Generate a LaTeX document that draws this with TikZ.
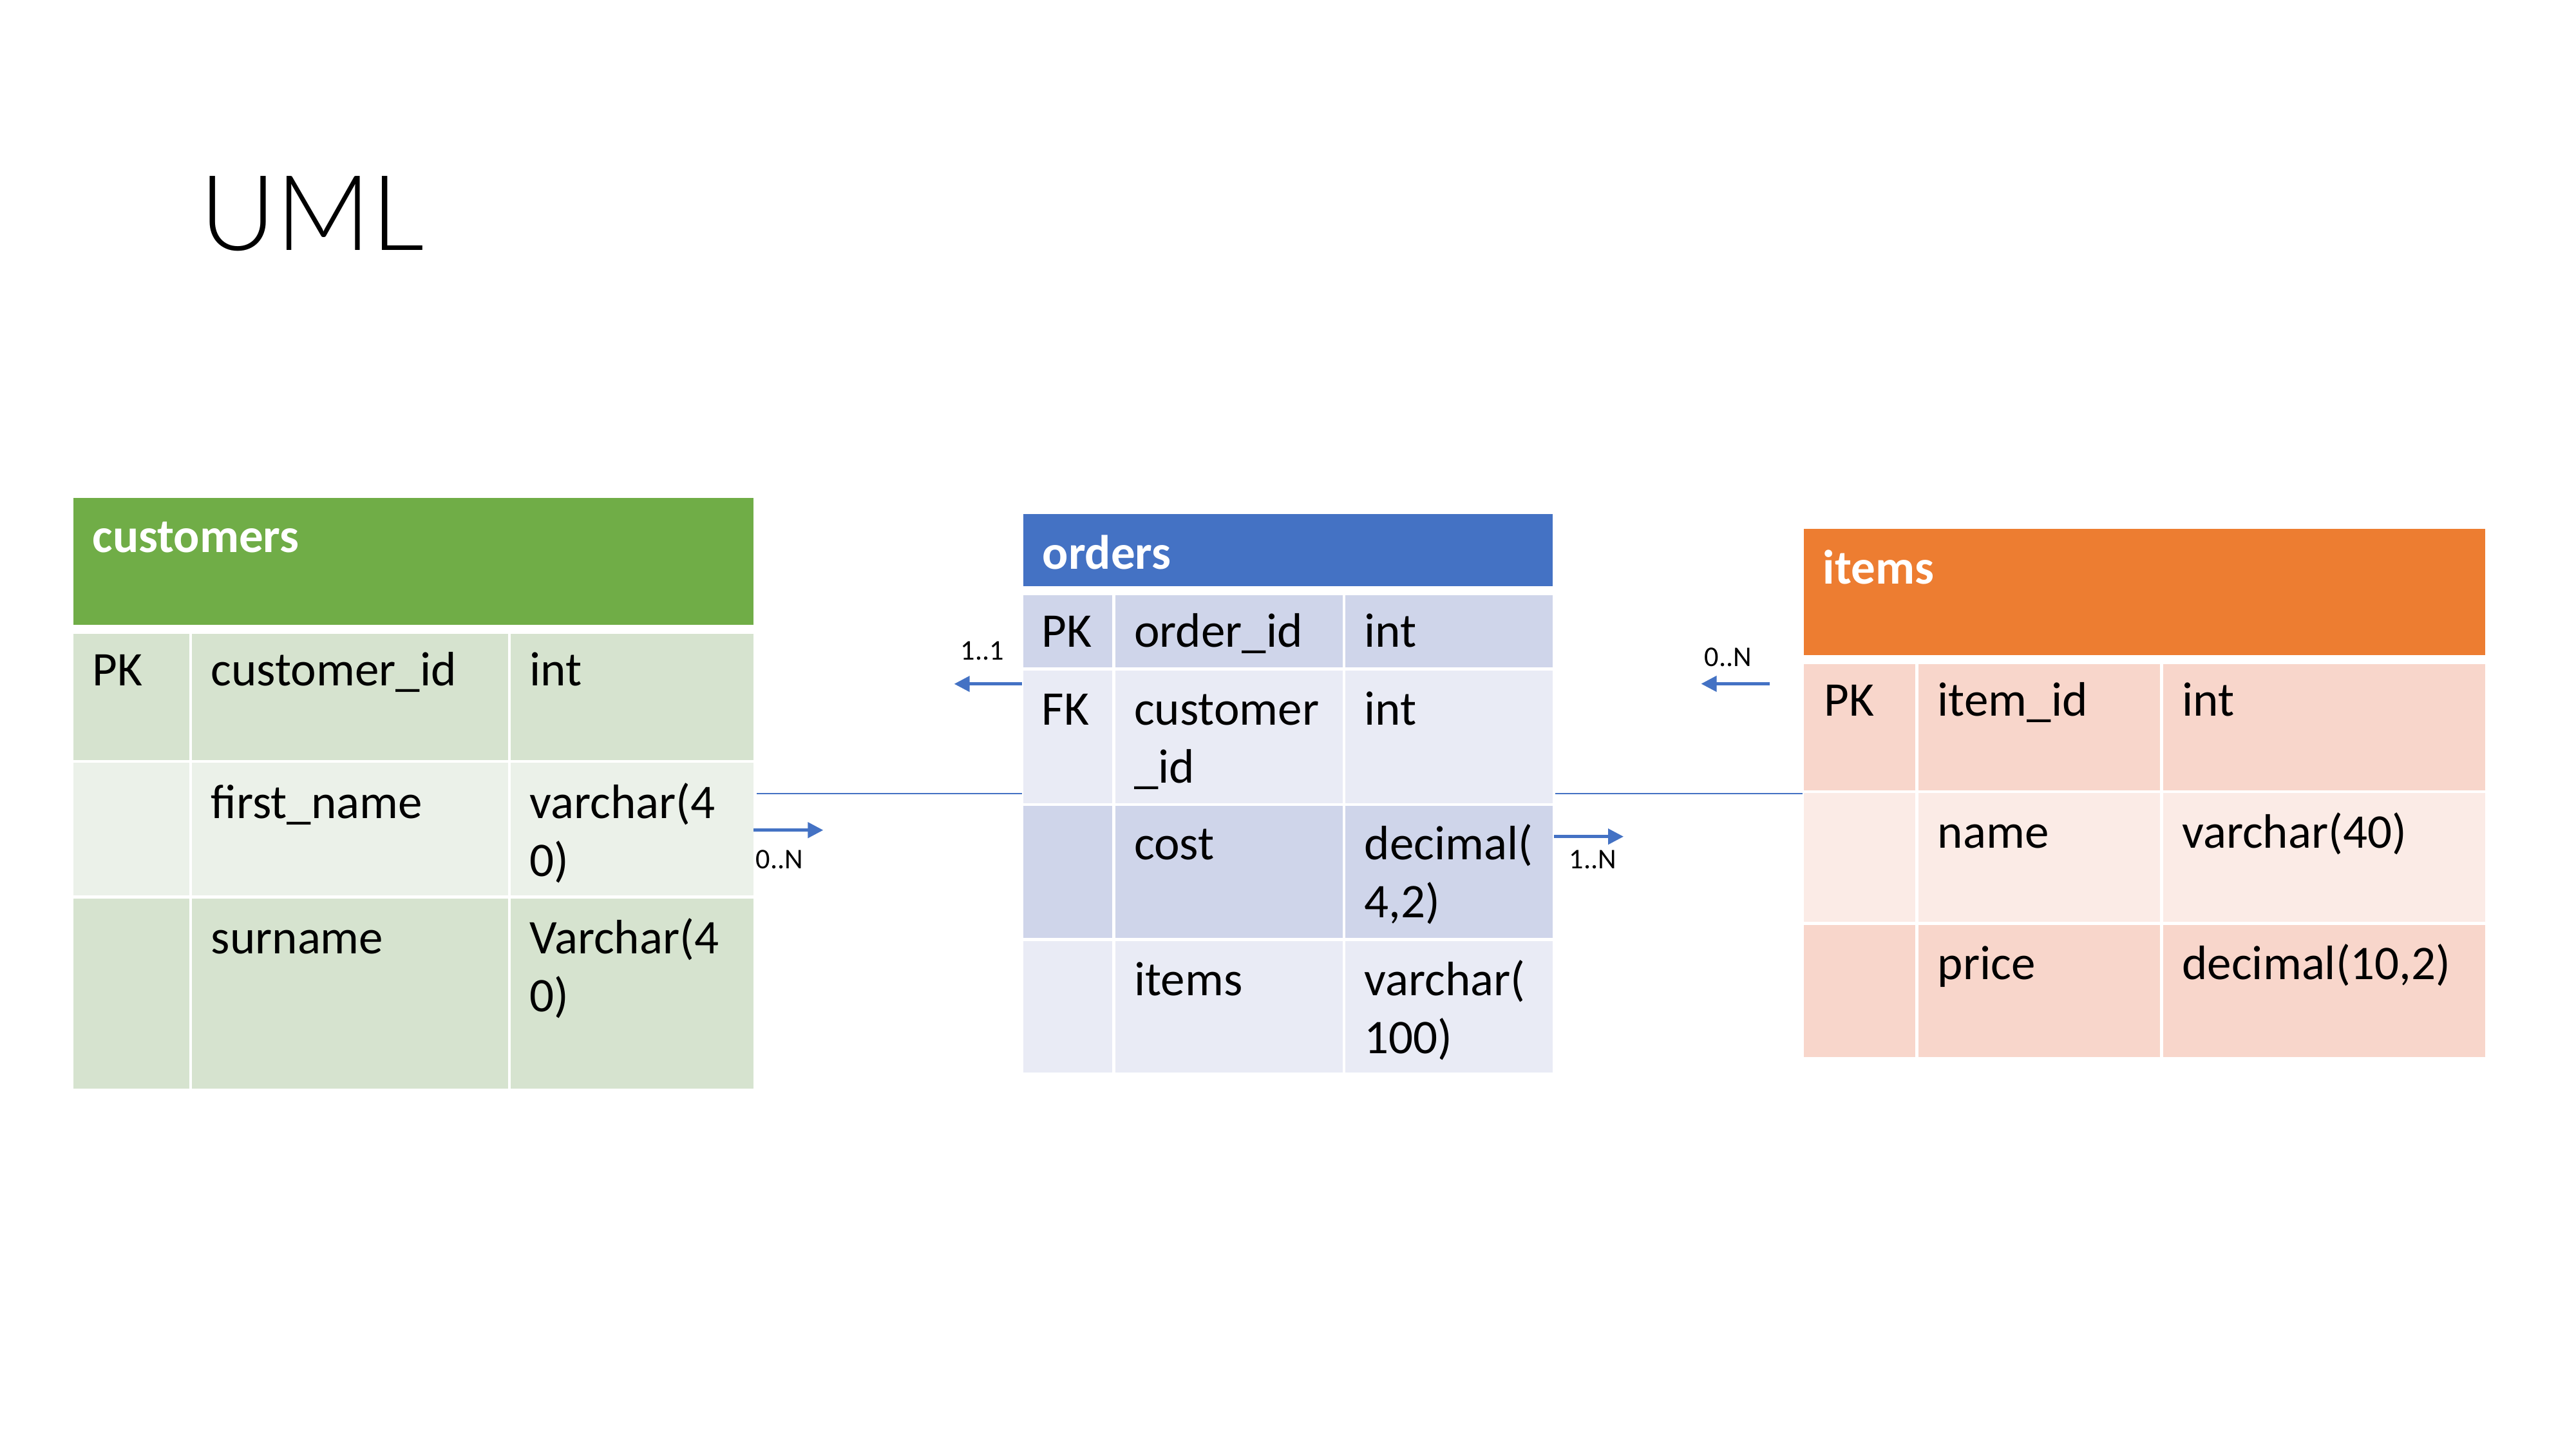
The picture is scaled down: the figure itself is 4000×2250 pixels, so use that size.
\documentclass[tikz,border=0pt]{standalone}
\usepackage{fontspec}
\setmainfont{Carlito}
\newfontfamily\titlefont{Lato Light}
\usetikzlibrary{arrows.meta}
\definecolor{cgreen}{HTML}{70AD47}
\definecolor{cdark}{HTML}{D6E3CF}
\definecolor{clight}{HTML}{EBF1E9}
\definecolor{oblue}{HTML}{4472C4}
\definecolor{odark}{HTML}{CFD5EA}
\definecolor{olight}{HTML}{E9EBF5}
\definecolor{iorange}{HTML}{ED7D31}
\definecolor{idark}{HTML}{F8D6CB}
\definecolor{ilight}{HTML}{FBEBE6}
\definecolor{lblue}{HTML}{4472C4}
\newcommand\twol[2]{\vtop{\hbox{#1}\hbox{#2}}}
\newcommand\rowcells[9]{%
  \fill[#1] (#4,#2) rectangle (#5,#3);
  \fill[#1] (#6,#2) rectangle (#7,#3);
  \fill[#1] (#8,#2) rectangle (#9,#3);}
\begin{document}
\begin{tikzpicture}[x=0.01cm,y=-0.01cm,
  cell/.style={inner sep=0pt, anchor=base west, xshift=0.03cm, yshift=-0.025cm, font=\fontsize{21.34}{25.6}\selectfont},
  head/.style={inner sep=0pt, anchor=base west, xshift=0.03cm, yshift=-0.02cm, text=white, font=\fontsize{21.34}{25.6}\selectfont\bfseries},
  lbl/.style={inner sep=0pt, anchor=base west, font=\fontsize{12.6}{15}\selectfont},
  tbl/.style={inner sep=0pt, draw=none, anchor=north west},
  link/.style={draw=lblue, line width=0.57pt},
  arr/.style={draw=lblue, line width=1.28pt, -{Triangle[length=0.24cm,width=0.24cm]}}]
\useasboundingbox[fill=white] (0,0) rectangle (4000,2250);

% title
\node[inner sep=0pt, anchor=base west, font=\titlefont\fontsize{46.2}{54}\selectfont] (title) at (310,388.3) {UML};

% table frames (named nodes)
\node[tbl, minimum width=10.56cm, minimum height=9.17cm] (cust) at (114,773) {};
\node[tbl, minimum width=8.22cm, minimum height=8.674cm] (ord) at (1589,797.6) {};
\node[tbl, minimum width=10.575cm, minimum height=8.194cm] (itm) at (2801,821.3) {};

% customers
\fill[cgreen] (114,773) rectangle (1170,970);
\rowcells{cdark}{983.5}{1180}{114}{294}{298}{789}{793}{1170}
\rowcells{clight}{1184}{1389.5}{114}{294}{298}{789}{793}{1170}
\rowcells{cdark}{1394.5}{1690}{114}{294}{298}{789}{793}{1170}
\node[head] (ch) at (140,855) {customers};
\node[cell] (c11) at (140,1061.5) {PK};
\node[cell] (c12) at (324,1061.5) {customer\_id};
\node[cell] (c13) at (819,1061.5) {int};
\node[cell] (c22) at (324,1268) {first\_name};
\node[cell] (c23) at (819,1268) {\twol{varchar(4}{0)}};
\node[cell] (c32) at (324,1477.5) {surname};
\node[cell] (c33) at (819,1477.5) {\twol{Varchar(4}{0)}};

% orders
\fill[oblue] (1589,797.6) rectangle (2411,910.3);
\rowcells{odark}{924}{1036}{1589}{1727}{1731.5}{2084.5}{2089}{2411}
\rowcells{olight}{1041}{1246.5}{1589}{1727}{1731.5}{2084.5}{2089}{2411}
\rowcells{odark}{1251}{1456}{1589}{1727}{1731.5}{2084.5}{2089}{2411}
\rowcells{olight}{1460.5}{1665}{1589}{1727}{1731.5}{2084.5}{2089}{2411}
\node[head] (oh) at (1615,881) {orders};
\node[cell] (o11) at (1614,1002) {PK};
\node[cell] (o12) at (1757.5,1002) {order\_id};
\node[cell] (o13) at (2115,1002) {int};
\node[cell] (o21) at (1614,1123) {FK};
\node[cell] (o22) at (1757.5,1123) {\twol{customer}{\_id}};
\node[cell] (o23) at (2115,1123) {int};
\node[cell] (o32) at (1757.5,1332) {cost};
\node[cell] (o33) at (2115,1332) {\twol{decimal(}{4,2)}};
\node[cell] (o42) at (1757.5,1542.5) {items};
\node[cell] (o43) at (2115,1542.5) {\twol{varchar(}{100)}};

% items
\fill[iorange] (2801,821.3) rectangle (3858.5,1017.2);
\rowcells{idark}{1030.7}{1226.5}{2801}{2974}{2979}{3353.6}{3358.6}{3858.5}
\rowcells{ilight}{1231}{1431.4}{2801}{2974}{2979}{3353.6}{3358.6}{3858.5}
\rowcells{idark}{1436}{1640.7}{2801}{2974}{2979}{3353.6}{3358.6}{3858.5}
\node[head] (ih) at (2827,904) {items};
\node[cell] (i11) at (2829,1108.7) {PK};
\node[cell] (i12) at (3005,1108.7) {item\_id};
\node[cell] (i13) at (3384.6,1108.7) {int};
\node[cell] (i22) at (3005,1313.5) {name};
\node[cell] (i23) at (3384.6,1313.5) {varchar(40)};
\node[cell] (i32) at (3005,1518.4) {price};
\node[cell] (i33) at (3384.6,1518.4) {decimal(10,2)};

% connectors
\draw[link] ([xshift=0.03cm]cust.east |- 0,1231.6) -- ([xshift=-0.02cm]ord.west |- 0,1231.6);
\draw[link] ([xshift=0.02cm]ord.east |- 0,1232) -- ([xshift=-0.02cm]itm.west |- 0,1232);

% multiplicity arrows
\coordinate (a1s) at (1170,1288.7);
\coordinate (a1e) at (1278.3,1288.7);
\coordinate (a2s) at (1587.3,1061.7);
\coordinate (a2e) at (1481.7,1061.7);
\coordinate (a3s) at (2413,1298.7);
\coordinate (a3e) at (2521,1298.7);
\coordinate (a4s) at (2748.4,1061.5);
\coordinate (a4e) at (2641.5,1061.5);
\draw[arr] (a1s) -- (a1e);
\draw[arr] (a2s) -- (a2e);
\draw[arr] (a3s) -- (a3e);
\draw[arr] (a4s) -- (a4e);
\node[lbl] (l1) at (1173,1348.3) {0..N};
\node[lbl] (l2) at (1491,1024.3) {1..1};
\node[lbl] (l3) at (2436,1348) {1..N};
\node[lbl] (l4) at (2646,1034.6) {0..N};
\end{tikzpicture}
\end{document}
